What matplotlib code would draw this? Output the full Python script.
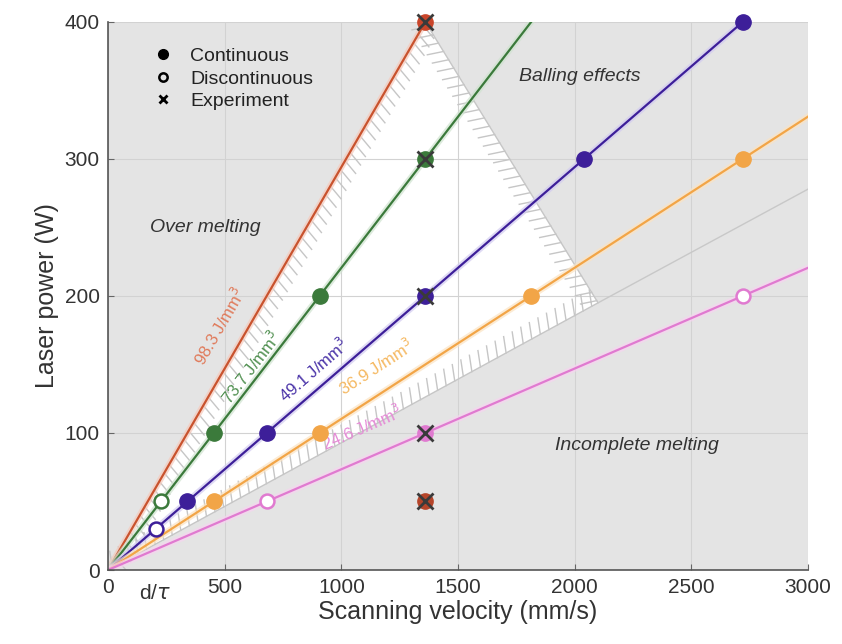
import matplotlib
matplotlib.use("Agg")
import matplotlib.pyplot as plt
import matplotlib.patheffects as pe
from matplotlib.lines import Line2D
from matplotlib.patches import Polygon
import numpy as np

plt.rcParams['font.family'] = ['Liberation Sans', 'DejaVu Sans']

# energy density lines (J/mm^3), each defined by one reference point (velocity, power)
energy = [98.3, 73.7, 49.1, 36.9, 24.6]
ref_v = [1360, 1360, 1360, 1813, 2720]
ref_p = [400, 300, 200, 200, 200]
line_colors = ['#c9532e', '#3b7a3b', '#3d1f99', '#f2a547', '#e07ad0']
label_colors = ['#e07a5a', '#4f8f4f', '#4a33a8', '#f5b860', '#e58ad6']
halo_colors = ['#f6c9bb', '#cfe3cf', '#d2cbf0', '#fbe3c2', '#f7d3f0']

# label centres (velocity, power) for the energy density annotations
label_v = [480, 615, 880, 1150, 1090]
label_p = [178, 148, 146, 148, 104]

# continuous points (filled), per line
cont_v = [[], [453, 907], [340, 680, 2040, 2720], [453, 907, 1813, 2720], []]
cont_p = [[], [100, 200], [50, 100, 300, 400], [50, 100, 200, 300], []]

# discontinuous points (open)
disc_v = [[], [227], [204], [], [680, 2720]]
disc_p = [[], [50], [30], [], [50, 200]]

# experiments
exp_v = [1360, 1360, 1360, 1360, 1360]
exp_p = [400, 300, 200, 100, 50]
exp_colors = ['#c9452a', '#3b7a3b', '#3d1f99', '#e07ad0', '#b5452a']

# process window (white region), counter-clockwise, and its lower boundary
window_v = [0, 2100, 1360]
window_p = [0, 195, 400]
boundary_v = [2100, 3000]
boundary_p = [195, 278]

regions = ['Over melting', 'Balling effects', 'Incomplete melting']
region_v = [415, 2020, 2265]
region_p = [250, 360, 91]

xticks = [0, 500, 1000, 1500, 2000, 2500, 3000]
yticks = [0, 100, 200, 300, 400]

fig = plt.figure(figsize=(8.42, 6.44), dpi=100)
ax = fig.add_axes([0.1283, 0.1149, 0.8314, 0.851])
ax.set_facecolor('#e4e4e4')

ax.set_xlim(0, 3000)
ax.set_ylim(0, 400)

# white process window with ticked hatching on the inner side
win = Polygon(list(zip(window_v, window_p)), closed=True, facecolor='white',
              edgecolor='none', zorder=0.3)
ax.add_patch(win)
ax.plot(window_v + [window_v[0]], window_p + [window_p[0]], color='#c6c6c6', lw=1.0,
        zorder=0.6, path_effects=[pe.withTickedStroke(spacing=7, angle=70, length=1.7)])
ax.plot(boundary_v, boundary_p, color='#c8c8c8', lw=1.0, zorder=0.7)

ax.grid(True, color='#d2d2d2', lw=0.8)
ax.set_axisbelow(True)

vx = np.array([0, 3000])
for i, e in enumerate(energy):
    k = ref_p[i] / ref_v[i]
    ax.plot(vx, k * vx, color=line_colors[i], lw=1.6, zorder=2,
            path_effects=[pe.Stroke(linewidth=4.5, foreground=halo_colors[i], alpha=0.7),
                          pe.Normal()])
    ang = np.degrees(np.arctan(k))
    ax.text(label_v[i], label_p[i], '%.1f J/mm$^3$' % e, color=label_colors[i],
            fontsize=12, rotation=ang, rotation_mode='anchor',
            transform_rotates_text=True, ha='center', va='center', zorder=3)
    ax.plot(cont_v[i], cont_p[i], 'o', color=line_colors[i], ms=11, zorder=4,
            clip_on=False)
    ax.plot(disc_v[i], disc_p[i], 'o', mfc='white', mec=line_colors[i], mew=1.8,
            ms=10, zorder=4, clip_on=False)

for v, p, c in zip(exp_v, exp_p, exp_colors):
    ax.plot(v, p, 'o', color=c, ms=11, zorder=4, clip_on=False)
    ax.plot(v, p, 'x', color='#3a3a3a', ms=12, mew=2, zorder=5, clip_on=False)

for t, v, p in zip(regions, region_v, region_p):
    ax.text(v, p, t, fontsize=14, style='italic', color='#333333',
            ha='center', va='center', zorder=3)

handles = [
    Line2D([], [], marker='o', color='black', ls='none', ms=7),
    Line2D([], [], marker='o', mfc='none', mec='black', mew=1.8, ls='none', ms=6),
    Line2D([], [], marker='x', color='black', mew=2, ls='none', ms=6),
]
ax.legend(handles, ['Continuous', 'Discontinuous', 'Experiment'], loc='upper left',
          frameon=False, fontsize=14, handlelength=1.0, handletextpad=0.9,
          labelspacing=0.25, bbox_to_anchor=(0.04, 0.985), labelcolor='#222222')

ax.set_xticks(xticks)
ax.set_yticks(yticks)
ax.tick_params(direction='in', length=4, color='#666666', labelcolor='#333333',
               labelsize=15, pad=6)
for s in ['top', 'right']:
    ax.spines[s].set_visible(False)
for s in ['left', 'bottom']:
    ax.spines[s].set_color('#555555')
    ax.spines[s].set_linewidth(1.2)

ax.annotate('d/$\\tau$', xy=(200, 0), xycoords=('data', 'axes fraction'),
            xytext=(0, -10), textcoords='offset points', ha='center', va='top',
            fontsize=15, color='#333333')

ax.set_xlabel('Scanning velocity (mm/s)', fontsize=18, color='#333333', labelpad=2)
ax.set_ylabel('Laser power (W)', fontsize=18, color='#333333', labelpad=4)

fig.savefig('out.png', dpi=100)
